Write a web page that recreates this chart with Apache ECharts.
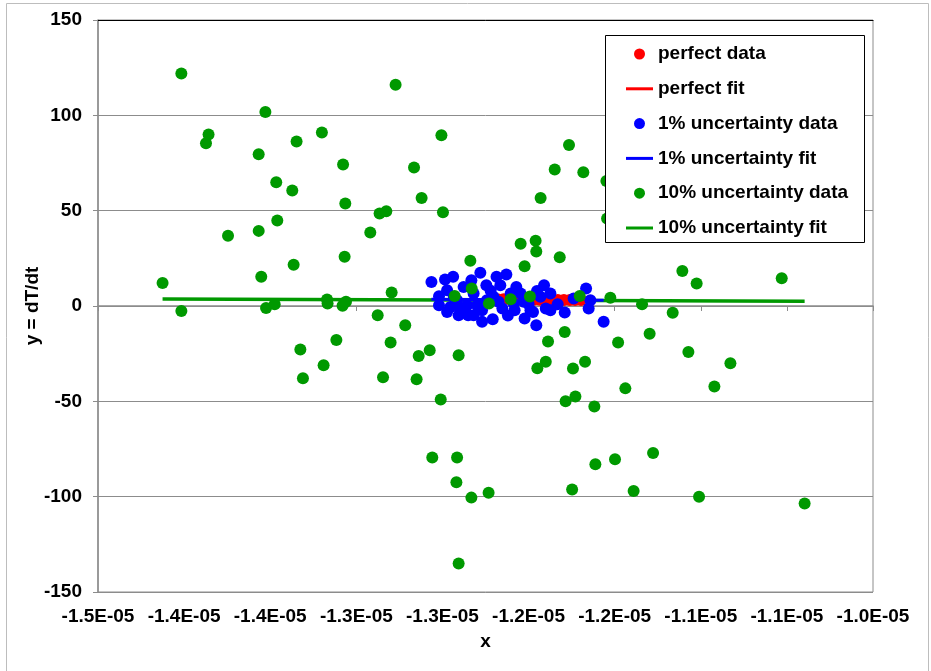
<!DOCTYPE html>
<html>
<head>
<meta charset="utf-8">
<script src="https://cdn.jsdelivr.net/npm/echarts@6/dist/echarts.min.js"></script>
<style>
  html, body { margin: 0; padding: 0; background: #fff; }
  #chart { width: 931px; height: 671px; }
</style>
</head>
<body>
<div id="chart"></div>
<script>
// x tick labels as Excel printed them (0.0E+00 format)
const xTickLabels = ['-1.5E-05', '-1.4E-05', '-1.4E-05', '-1.3E-05', '-1.3E-05',
  '-1.2E-05', '-1.2E-05', '-1.1E-05', '-1.1E-05', '-1.0E-05'];
const xMin = -1.5e-5, xStep = 5e-7, xMax = -1.05e-5;

// perfect data
const perfectX = [-1.2680e-5, -1.2645e-5, -1.2610e-5, -1.2575e-5, -1.2540e-5, -1.2505e-5,
  -1.2470e-5, -1.2435e-5, -1.2400e-5, -1.2365e-5, -1.2330e-5, -1.2295e-5, -1.2260e-5,
  -1.2230e-5, -1.2195e-5];
const perfectY = [3.5, 3.5, 3.5, 3.4, 3.4, 3.4, 3.3, 3.3, 3.3, 3.3, 3.2, 3.2, 3.2, 3.1, 3.1];
const perfectFitX = [-1.2680e-5, -1.2195e-5];
const perfectFitY = [3.5, 3.1];

// 1% uncertainty data
const oneX = [-1.3064e-5, -1.2985e-5, -1.2938e-5, -1.3020e-5, -1.3020e-5, -1.2973e-5,
  -1.2906e-5, -1.2851e-5, -1.2770e-5, -1.2708e-5, -1.2832e-5, -1.2780e-5, -1.2745e-5,
  -1.2686e-5, -1.2629e-5, -1.2664e-5, -1.2571e-5, -1.2652e-5, -1.2581e-5, -1.2523e-5,
  -1.2455e-5, -1.2474e-5, -1.2451e-5, -1.2410e-5, -1.2373e-5, -1.2400e-5, -1.2331e-5,
  -1.2290e-5, -1.2238e-5, -1.2166e-5, -1.2141e-5, -1.2151e-5, -1.2064e-5, -1.2877e-5,
  -1.2819e-5, -1.2915e-5, -1.2857e-5, -1.2799e-5, -1.2770e-5, -1.2742e-5, -1.2973e-5,
  -1.2934e-5, -1.2954e-5, -1.2897e-5, -1.2819e-5, -1.2704e-5, -1.2674e-5, -1.2604e-5,
  -1.2546e-5, -1.2528e-5, -1.2586e-5, -1.2489e-5, -1.2431e-5, -1.2373e-5, -1.2620e-5,
  -1.2880e-5, -1.2720e-5, -1.2500e-5];
const oneY = [12.6, 13.9, 15.3, 5.1, 0.4, -3.1, -4.8, -4.8, -8.3, -6.9, 13.5, 17.4, 10.9,
  15.3, 16.5, 10.9, 10.0, -1.3, -2.2, -6.6, -10.1, -3.1, 7.9, 10.9, 6.6, -1.3, 0.9, -3.4,
  3.9, 9.2, 3.0, -1.3, -8.3, 10.0, 6.6, 3.0, 0.4, 0.4, -2.2, 3.0, 8.3, 4.8, -0.5, -1.3,
  -4.8, 4.8, 2.2, 6.6, 6.6, 2.2, 1.3, -2.2, 4.8, -2.2, -5.0, -2.0, 8.0, 1.0];
const oneFitX = [-1.3064e-5, -1.2064e-5];
const oneFitY = [3.6, 3.0];

// 10% uncertainty data
const tenX = [-1.4516e-5, -1.4625e-5, -1.4516e-5, -1.4373e-5, -1.4358e-5, -1.4245e-5,
  -1.4067e-5, -1.4028e-5, -1.4067e-5, -1.4052e-5, -1.4024e-5, -1.3974e-5, -1.3965e-5,
  -1.3959e-5, -1.3872e-5, -1.3847e-5, -1.3864e-5, -1.3700e-5, -1.3825e-5, -1.3810e-5,
  -1.3690e-5, -1.3616e-5, -1.3577e-5, -1.3564e-5, -1.3568e-5, -1.3670e-5, -1.3667e-5,
  -1.3580e-5, -1.3560e-5, -1.3419e-5, -1.3365e-5, -1.3326e-5, -1.3376e-5, -1.3295e-5,
  -1.3272e-5, -1.3216e-5, -1.3165e-5, -1.3121e-5, -1.3006e-5, -1.2997e-5, -1.2929e-5,
  -1.2838e-5, -1.2830e-5, -1.2730e-5, -1.2604e-5, -1.2546e-5, -1.2523e-5, -1.2492e-5,
  -1.2459e-5, -1.2455e-5, -1.2430e-5, -1.2348e-5, -1.2319e-5, -1.2265e-5, -1.2203e-5,
  -1.2182e-5, -1.2025e-5, -1.2048e-5, -1.2044e-5, -1.1841e-5, -1.1663e-5, -1.1607e-5,
  -1.1524e-5, -1.1030e-5, -1.3301e-5, -1.3345e-5, -1.3138e-5, -1.3150e-5, -1.3074e-5,
  -1.3010e-5, -1.2906e-5, -1.3059e-5, -1.2915e-5, -1.2919e-5, -1.2832e-5, -1.2732e-5,
  -1.2906e-5, -1.2387e-5, -1.2449e-5, -1.2400e-5, -1.2290e-5, -1.2242e-5, -1.2172e-5,
  -1.2285e-5, -1.2228e-5, -1.2118e-5, -1.2112e-5, -1.1998e-5, -1.2247e-5, -1.1980e-5,
  -1.1938e-5, -1.1797e-5, -1.1572e-5, -1.1328e-5, -1.1421e-5, -1.1777e-5, -1.1890e-5,
  -1.1510e-5, -1.0897e-5];
const tenY = [122.0, 12.1, -2.6, 85.3, 90.0, 36.8, 79.6, 101.8, 39.4, 15.3, -1.0, 0.9, 64.9,
  44.9, 60.6, 86.3, 21.6, 91.0, -22.8, -37.9, -31.1, -17.8, 74.2, 53.8, 25.8, 3.4, 1.3,
  0.1, 2.2, 38.6, 48.5, 49.7, -4.8, 7.1, 116.0, -10.1, 72.7, 56.7, 89.6, 49.2, 5.3, 23.7,
  9.2, 1.3, 3.6, 32.6, 20.9, 5.0, 34.2, 28.6, 56.7, 71.6, 25.6, 84.4, 5.3, 70.2, 4.3,
  65.5, 45.9, 0.9, -3.6, 18.3, 11.8, 14.6, -19.2, -37.4, -26.2, -38.4, -23.2, -49.1,
  -25.8, -79.5, -79.5, -92.4, -100.5, -97.9, -135.1, -18.6, -32.6, -29.3, -13.6, -32.8,
  -29.3, -49.9, -47.5, -52.7, -83.0, -80.4, -96.3, -19.2, -43.2, -14.6, -24.1, -30.0,
  -42.2, -77.1, -97.0, -100.1, -103.6];
const tenFitX = [-1.4625e-5, -1.0897e-5];
const tenFitY = [3.7, 2.5];

const pairs = (xs, ys) => xs.map((x, i) => [x, ys[i]]);

const chart = echarts.init(document.getElementById('chart'));
const font = 'Liberation Sans, Arial, sans-serif';
const gray = '#8c8c8c';
const lineIcon = 'path://M0 0H27V3H0Z';

const option = {
  animation: false,
  textStyle: { fontFamily: font },
  grid: { left: 98, right: 58, top: 20, bottom: 79, show: true, borderColor: gray, borderWidth: 1 },
  graphic: [
    { type: 'rect', z: 0, silent: true,
      shape: { x: 6.5, y: 3.5, width: 922, height: 700 },
      style: { fill: 'none', stroke: '#bdbdbd', lineWidth: 1 } },
    { type: 'rect', z: 10, silent: true,
      shape: { x: 605.5, y: 35.5, width: 259, height: 207 },
      style: { fill: '#fff', stroke: '#000', lineWidth: 1 } }
  ],
  legend: {
    z: 20,
    orient: 'vertical',
    left: 626, top: 44, padding: 0,
    itemWidth: 27, itemHeight: 11, itemGap: 14.8,
    textStyle: { fontFamily: font, fontWeight: 'bold', fontSize: 19, color: '#000', lineHeight: 20 },
    data: [
      { name: 'perfect data', icon: 'circle' },
      { name: 'perfect fit', icon: lineIcon },
      { name: '1% uncertainty data', icon: 'circle' },
      { name: '1% uncertainty fit', icon: lineIcon },
      { name: '10% uncertainty data', icon: 'circle' },
      { name: '10% uncertainty fit', icon: lineIcon }
    ]
  },
  xAxis: [{
    type: 'value', min: xMin, max: xMax, interval: xStep,
    name: 'x', nameLocation: 'middle', nameGap: 40,
    nameTextStyle: { fontWeight: 'bold', fontSize: 19, color: '#000' },
    axisLine: { show: true, lineStyle: { color: gray, width: 1.5 } },
    axisTick: { show: true, length: 5, lineStyle: { color: gray } },
    splitLine: { show: false },
    axisLabel: {
      margin: 15, fontWeight: 'bold', fontSize: 19, color: '#000',
      formatter: v => xTickLabels[Math.round((v - xMin) / xStep)]
    }
  }, {
    type: 'value', position: 'top', min: xMin, max: xMax,
    axisLine: { show: true, onZero: false, lineStyle: { color: '#000', width: 1 } },
    axisTick: { show: false }, axisLabel: { show: false }, splitLine: { show: false }
  }],
  yAxis: {
    type: 'value', min: -150, max: 150, interval: 50,
    name: 'y = dT/dt', nameLocation: 'middle', nameGap: 56, nameRotate: 90,
    nameMoveOverlap: false,
    nameTextStyle: { fontWeight: 'bold', fontSize: 19, color: '#000' },
    axisLine: { show: true, lineStyle: { color: gray, width: 1.5 } },
    axisTick: { show: true, length: 5, lineStyle: { color: gray } },
    splitLine: { lineStyle: { color: gray, width: 1 } },
    axisLabel: { margin: 16, fontWeight: 'bold', fontSize: 19, color: '#000' }
  },
  series: [
    { name: '10% uncertainty fit', type: 'line', z: 1, data: pairs(tenFitX, tenFitY),
      symbol: 'none', color: '#009900', lineStyle: { color: '#009900', width: 3.5 } },
    { name: '1% uncertainty fit', type: 'line', z: 1, data: pairs(oneFitX, oneFitY),
      symbol: 'none', color: '#0000ff', lineStyle: { color: '#0000ff', width: 3 } },
    { name: 'perfect data', type: 'scatter', z: 2, data: pairs(perfectX, perfectY),
      symbolSize: 12, itemStyle: { color: '#ff0000', opacity: 1 } },
    { name: 'perfect fit', type: 'line', z: 2, data: pairs(perfectFitX, perfectFitY),
      symbol: 'none', color: '#ff0000', lineStyle: { color: '#ff0000', width: 3 } },
    { name: '1% uncertainty data', type: 'scatter', z: 3, data: pairs(oneX, oneY),
      symbolSize: 12, itemStyle: { color: '#0000ff', opacity: 1 } },
    { name: '10% uncertainty data', type: 'scatter', z: 4, data: pairs(tenX, tenY),
      symbolSize: 12, itemStyle: { color: '#009900', opacity: 1 } }
  ]
};

chart.setOption(option);
</script>
</body>
</html>
